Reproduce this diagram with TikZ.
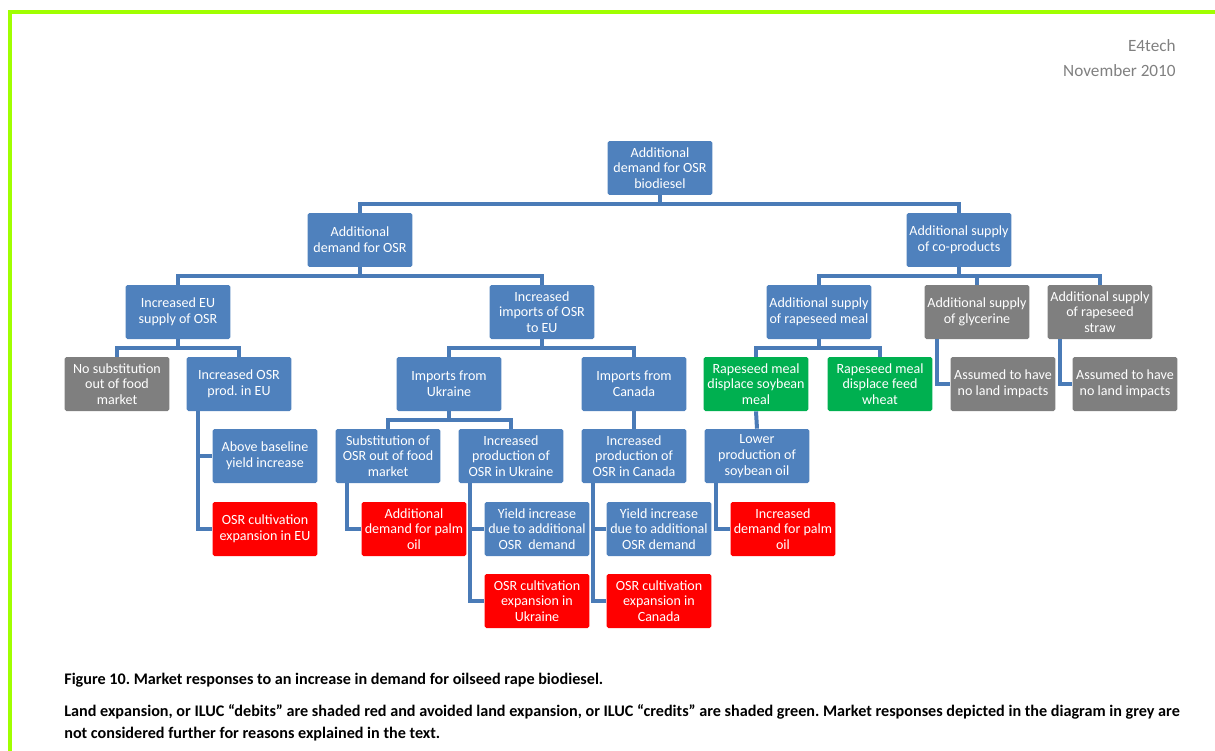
\documentclass[tikz,border=0pt]{standalone}
\usepackage{fontspec}
\setmainfont{Carlito}
\frenchspacing
\definecolor{boxblue}{HTML}{4F81BD}
\definecolor{boxgrey}{HTML}{7F7F7F}
\definecolor{boxgreen}{HTML}{00B050}
\definecolor{boxred}{HTML}{FF0000}
\definecolor{linkblue}{HTML}{4A7BB7}
\definecolor{framegreen}{HTML}{A0FF00}
\definecolor{headgrey}{HTML}{808080}
\begin{document}
\begin{tikzpicture}[x=0.02cm,y=-0.02cm,
  box/.style={rectangle,rounded corners=1pt,minimum width=2.1cm,minimum height=1.08cm,
    inner sep=1pt,align=center,text=white,font=\fontsize{8}{9}\selectfont},
  bluebox/.style={box,fill=boxblue},
  greybox/.style={box,fill=boxgrey},
  greenbox/.style={box,fill=boxgreen},
  redbox/.style={box,fill=boxred},
  link/.style={draw=linkblue,line width=0.08cm},
  headtxt/.style={text=headgrey,font=\fontsize{9.8}{12}\selectfont,inner sep=0pt},
  captxt/.style={font=\bfseries\fontsize{9.2}{12.5}\selectfont,inner sep=0pt,align=left}]
\useasboundingbox (0,0) rectangle (1215,751);
% page frame
\draw[framegreen,line width=0.08cm] (10,751) -- (10,12) -- (1215,12);
\node[headtxt,anchor=east] (firm) at (1176,46) {E4tech};
\node[headtxt,anchor=east] (month) at (1176,71) {November 2010};

% levels 1-3
\node[bluebox] (biodsl) at (660,168) {Additional\\demand for OSR\\biodiesel};
\node[bluebox] (dmdOSR) at (360,240) {Additional\\demand for OSR};
\node[bluebox] (coprod) at (959,240) {Additional supply\\of co-products};
\node[bluebox] (euSup) at (178,312) {Increased EU\\supply of OSR};
\node[bluebox] (imports) at (542,312) {Increased\\imports of OSR\\to EU};
\node[bluebox] (meal) at (819,312) {Additional supply\\of rapeseed meal};
\node[greybox] (glyc) at (977,312) {Additional supply\\of glycerine};
\node[greybox] (straw) at (1100,312) {Additional supply\\of rapeseed\\straw};

% level 4
\node[greybox] (noSub) at (117,384) {No substitution\\out of food\\market};
\node[bluebox] (prodEU) at (239,384) {Increased OSR\\prod. in EU};
\node[bluebox] (impUA) at (449,384) {Imports from\\Ukraine};
\node[bluebox] (impCA) at (634,384) {Imports from\\Canada};
\node[greenbox] (soyMeal) at (756,384) {Rapeseed meal\\displace soybean\\meal};
\node[greenbox] (feedWht) at (880,384) {Rapeseed meal\\displace feed\\wheat};
\node[greybox] (noLandA) at (1003,384) {Assumed to have\\no land impacts};
\node[greybox] (noLandB) at (1125,384) {Assumed to have\\no land impacts};

% level 5
\node[bluebox] (yieldEU) at (265,456) {Above baseline\\yield increase};
\node[bluebox] (subFood) at (388,456) {Substitution of\\OSR out of food\\market};
\node[bluebox] (prodUA) at (511,456) {Increased\\production of\\OSR in Ukraine};
\node[bluebox] (prodCA) at (634,456) {Increased\\production of\\OSR in Canada};
\node[bluebox] (lowSoy) at (757,456) {Lower\\production of\\soybean oil};

% levels 6-7
\node[redbox] (expEU) at (265,529) {OSR cultivation\\expansion in EU};
\node[redbox] (palmA) at (414,529) {Additional\\demand for palm\\oil};
\node[bluebox] (yieldUA) at (537,529) {Yield increase\\due to additional\\OSR~ demand};
\node[bluebox] (yieldCA) at (659,529) {Yield increase\\due to additional\\OSR demand};
\node[redbox] (palmB) at (783,529) {Increased\\demand for palm\\oil};
\node[redbox] (expUA) at (537,601) {OSR cultivation\\expansion in\\Ukraine};
\node[redbox] (expCA) at (659,601) {OSR cultivation\\expansion in\\Canada};

% tree links
\draw[link] (biodsl.south) -- ++(0,9) -| (dmdOSR.north);
\draw[link] (biodsl.south) -- ++(0,9) -| (coprod.north);
\draw[link] (dmdOSR.south) -- ++(0,9) -| (euSup.north);
\draw[link] (dmdOSR.south) -- ++(0,9) -| (imports.north);
\draw[link] (coprod.south) -- ++(0,9) -| (meal.north);
\draw[link] (coprod.south) -- ++(0,9) -| (glyc.north);
\draw[link] (coprod.south) -- ++(0,9) -| (straw.north);
\draw[link] (euSup.south) -- ++(0,9) -| (noSub.north);
\draw[link] (euSup.south) -- ++(0,9) -| (prodEU.north);
\draw[link] (imports.south) -- ++(0,9) -| (impUA.north);
\draw[link] (imports.south) -- ++(0,9) -| (impCA.north);
\draw[link] (meal.south) -- ++(0,9) -| (soyMeal.north);
\draw[link] (meal.south) -- ++(0,9) -| (feedWht.north);
\draw[link] (impUA.south) -- ++(0,9) -| (subFood.north);
\draw[link] (impUA.south) -- ++(0,9) -| (prodUA.north);
\draw[link] (impCA.south) -- (prodCA.north);
\draw[link] (soyMeal.south) -- (lowSoy.north);

% side links
\draw[link] ([xshift=0.24cm]prodEU.south west) |- (yieldEU.west);
\draw[link] ([xshift=0.24cm]prodEU.south west) |- (expEU.west);
\draw[link] ([xshift=0.26cm]glyc.south west) |- (noLandA.west);
\draw[link] ([xshift=0.26cm]straw.south west) |- (noLandB.west);
\draw[link] ([xshift=0.24cm]subFood.south west) |- (palmA.west);
\draw[link] ([xshift=0.24cm]prodUA.south west) |- (yieldUA.west);
\draw[link] ([xshift=0.24cm]prodUA.south west) |- (expUA.west);
\draw[link] ([xshift=0.24cm]prodCA.south west) |- (yieldCA.west);
\draw[link] ([xshift=0.24cm]prodCA.south west) |- (expCA.west);
\draw[link] ([xshift=0.24cm]lowSoy.south west) |- (palmB.west);

% caption
\node[captxt,anchor=base west] (figcap) at (64,684) {Figure 10. Market responses to an increase in demand for oilseed rape biodiesel.};
\node[captxt,anchor=base west] (legend) at (64,738) {Land expansion, or ILUC “debits” are shaded red and avoided land expansion, or ILUC “credits” are shaded green. Market responses depicted in the diagram in grey are\\not considered further for reasons explained in the text.};
\end{tikzpicture}
\end{document}
